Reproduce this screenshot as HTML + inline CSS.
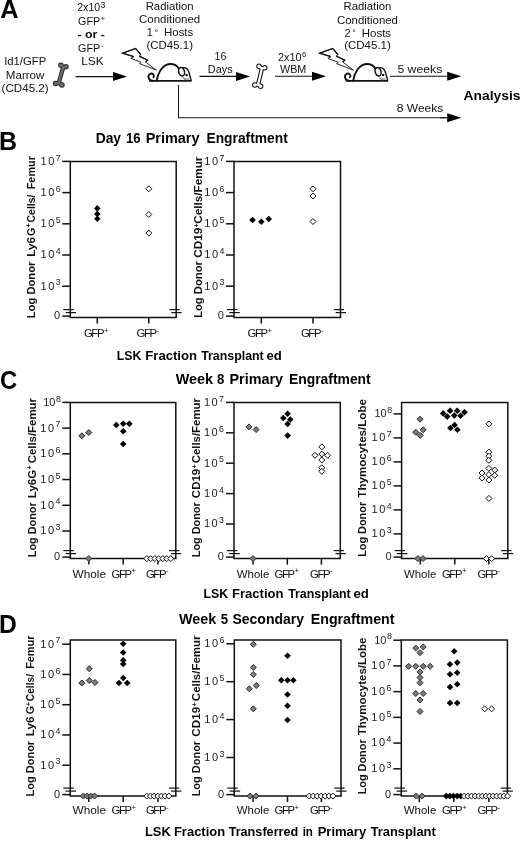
<!DOCTYPE html>
<html><head><meta charset="utf-8"><title>Figure</title>
<style>html,body{margin:0;padding:0;background:#fff;}svg{display:block;font-family:"Liberation Sans",sans-serif;filter:blur(0.35px);}</style>
</head><body>
<svg width="520" height="841" viewBox="0 0 520 841" font-family="Liberation Sans, sans-serif">
<rect width="520" height="841" fill="#fff"/>
<text x="0.30" y="18.40" font-size="25.3" font-weight="bold" fill="#000" >A</text>
<text x="-0.90" y="150.10" font-size="25" font-weight="bold" fill="#000" >B</text>
<text x="0.10" y="389.30" font-size="25" font-weight="bold" textLength="17.20" lengthAdjust="spacingAndGlyphs" fill="#000" >C</text>
<text x="-0.90" y="633.40" font-size="25" font-weight="bold" textLength="17.80" lengthAdjust="spacingAndGlyphs" fill="#000" >D</text>
<text x="4.20" y="65.20" font-size="11.3" textLength="42.00" lengthAdjust="spacingAndGlyphs" fill="#111" >Id1/GFP</text>
<text x="5.80" y="78.60" font-size="11.3" textLength="38.60" lengthAdjust="spacingAndGlyphs" fill="#111" >Marrow</text>
<text x="1.60" y="91.80" font-size="11.3" textLength="47.10" lengthAdjust="spacingAndGlyphs" fill="#111" >(CD45.2)</text>
<text x="77.20" y="10.60" font-size="11.3" textLength="23.00" lengthAdjust="spacingAndGlyphs" fill="#111" >2x10</text>
<text x="100.60" y="8.00" font-size="8.8" fill="#111" >3</text>
<text x="78.10" y="24.70" font-size="11.3" textLength="22.20" lengthAdjust="spacingAndGlyphs" fill="#111" >GFP</text>
<text x="100.40" y="21.40" font-size="8" fill="#111" >+</text>
<text x="77.50" y="37.90" font-size="11.3" font-weight="bold" textLength="27.50" lengthAdjust="spacingAndGlyphs" fill="#111" >- or -</text>
<text x="78.10" y="51.90" font-size="11.3" textLength="22.20" lengthAdjust="spacingAndGlyphs" fill="#111" >GFP</text>
<text x="100.90" y="47.80" font-size="8" fill="#111" >-</text>
<text x="81.20" y="65.20" font-size="11.3" textLength="22.40" lengthAdjust="spacingAndGlyphs" fill="#111" >LSK</text>
<text x="145.70" y="9.90" font-size="11.3" textLength="47.90" lengthAdjust="spacingAndGlyphs" fill="#111" >Radiation</text>
<text x="139.10" y="23.00" font-size="11.3" textLength="61.10" lengthAdjust="spacingAndGlyphs" fill="#111" >Conditioned</text>
<text x="146.70" y="36.30" font-size="11.3" textLength="6.00" lengthAdjust="spacingAndGlyphs" fill="#111" >1</text>
<text x="154.40" y="35.50" font-size="9" fill="#111" >°</text>
<text x="164.00" y="36.30" font-size="11.3" textLength="29.30" lengthAdjust="spacingAndGlyphs" fill="#111" >Hosts</text>
<text x="146.40" y="48.90" font-size="11.3" textLength="46.60" lengthAdjust="spacingAndGlyphs" fill="#111" >(CD45.1)</text>
<text x="343.50" y="10.40" font-size="11.3" textLength="47.90" lengthAdjust="spacingAndGlyphs" fill="#111" >Radiation</text>
<text x="336.90" y="23.50" font-size="11.3" textLength="61.10" lengthAdjust="spacingAndGlyphs" fill="#111" >Conditioned</text>
<text x="344.50" y="36.80" font-size="11.3" textLength="6.00" lengthAdjust="spacingAndGlyphs" fill="#111" >2</text>
<text x="352.20" y="36.00" font-size="9" fill="#111" >°</text>
<text x="361.80" y="36.80" font-size="11.3" textLength="29.30" lengthAdjust="spacingAndGlyphs" fill="#111" >Hosts</text>
<text x="344.20" y="49.40" font-size="11.3" textLength="46.60" lengthAdjust="spacingAndGlyphs" fill="#111" >(CD45.1)</text>
<text x="214.60" y="60.00" font-size="11.3" textLength="11.80" lengthAdjust="spacingAndGlyphs" fill="#111" >16</text>
<text x="207.80" y="72.60" font-size="11.3" textLength="24.80" lengthAdjust="spacingAndGlyphs" fill="#111" >Days</text>
<text x="278.00" y="61.00" font-size="11.3" textLength="23.50" lengthAdjust="spacingAndGlyphs" fill="#111" >2x10</text>
<text x="302.00" y="56.80" font-size="7.6" fill="#111" >6</text>
<text x="280.00" y="73.00" font-size="11.3" textLength="26.30" lengthAdjust="spacingAndGlyphs" fill="#111" >WBM</text>
<text x="397.40" y="72.60" font-size="11.3" textLength="44.90" lengthAdjust="spacingAndGlyphs" fill="#111" >5 weeks</text>
<text x="396.80" y="111.50" font-size="11.3" textLength="46.50" lengthAdjust="spacingAndGlyphs" fill="#111" >8 Weeks</text>
<text x="463.50" y="99.50" font-size="13.2" font-weight="bold" textLength="57.00" lengthAdjust="spacingAndGlyphs" fill="#000" >Analysis</text>
<line x1="75.50" y1="76.60" x2="119.00" y2="76.60" stroke="#111" stroke-width="1.1" stroke-linecap="butt"/>
<path d="M127.00 76.60L113.00 72.10L113.00 81.10Z" fill="#000"/>
<line x1="199.50" y1="76.40" x2="242.00" y2="76.40" stroke="#111" stroke-width="1.1" stroke-linecap="butt"/>
<path d="M250.00 76.40L236.00 71.90L236.00 80.90Z" fill="#000"/>
<line x1="275.00" y1="76.20" x2="318.00" y2="76.20" stroke="#111" stroke-width="1.1" stroke-linecap="butt"/>
<path d="M326.00 76.20L312.00 71.70L312.00 80.70Z" fill="#000"/>
<line x1="390.00" y1="76.30" x2="453.20" y2="76.30" stroke="#111" stroke-width="1.1" stroke-linecap="butt"/>
<path d="M461.20 76.30L447.20 71.80L447.20 80.80Z" fill="#000"/>
<path d="M178.5 85L178.5 117.7L450 117.7" fill="none" stroke="#1a1a1a" stroke-width="1.05"/>
<line x1="440.00" y1="117.70" x2="453.20" y2="117.70" stroke="#111" stroke-width="1.1" stroke-linecap="butt"/>
<path d="M461.20 117.70L447.20 113.20L447.20 122.20Z" fill="#000"/>
<line x1="63.10" y1="67.50" x2="58.80" y2="83.00" stroke="#2b2b2b" stroke-width="4.4" stroke-linecap="round"/>
<line x1="63.10" y1="67.50" x2="60.90" y2="65.20" stroke="#2b2b2b" stroke-width="3.9600000000000004" stroke-linecap="round"/>
<circle cx="60.9" cy="65.2" r="2.75" fill="#2b2b2b"/>
<line x1="63.10" y1="67.50" x2="65.90" y2="66.70" stroke="#2b2b2b" stroke-width="3.9600000000000004" stroke-linecap="round"/>
<circle cx="65.9" cy="66.7" r="2.75" fill="#2b2b2b"/>
<line x1="58.80" y1="83.00" x2="55.60" y2="83.60" stroke="#2b2b2b" stroke-width="3.9600000000000004" stroke-linecap="round"/>
<circle cx="55.6" cy="83.6" r="2.75" fill="#2b2b2b"/>
<line x1="58.80" y1="83.00" x2="62.00" y2="85.00" stroke="#2b2b2b" stroke-width="3.9600000000000004" stroke-linecap="round"/>
<circle cx="62.0" cy="85.0" r="2.75" fill="#2b2b2b"/>
<line x1="63.10" y1="67.50" x2="58.80" y2="83.00" stroke="#6e6e6e" stroke-width="2.2" stroke-linecap="round"/>
<line x1="63.10" y1="67.50" x2="60.90" y2="65.20" stroke="#6e6e6e" stroke-width="1.9800000000000002" stroke-linecap="round"/>
<circle cx="60.9" cy="65.2" r="1.7" fill="#6e6e6e"/>
<line x1="63.10" y1="67.50" x2="65.90" y2="66.70" stroke="#6e6e6e" stroke-width="1.9800000000000002" stroke-linecap="round"/>
<circle cx="65.9" cy="66.7" r="1.7" fill="#6e6e6e"/>
<line x1="58.80" y1="83.00" x2="55.60" y2="83.60" stroke="#6e6e6e" stroke-width="1.9800000000000002" stroke-linecap="round"/>
<circle cx="55.6" cy="83.6" r="1.7" fill="#6e6e6e"/>
<line x1="58.80" y1="83.00" x2="62.00" y2="85.00" stroke="#6e6e6e" stroke-width="1.9800000000000002" stroke-linecap="round"/>
<circle cx="62.0" cy="85.0" r="1.7" fill="#6e6e6e"/>
<line x1="261.90" y1="68.60" x2="258.10" y2="84.40" stroke="#111" stroke-width="4.4" stroke-linecap="round"/>
<line x1="261.90" y1="68.60" x2="259.00" y2="66.30" stroke="#111" stroke-width="3.9600000000000004" stroke-linecap="round"/>
<circle cx="259.0" cy="66.3" r="2.75" fill="#111"/>
<line x1="261.90" y1="68.60" x2="264.80" y2="67.80" stroke="#111" stroke-width="3.9600000000000004" stroke-linecap="round"/>
<circle cx="264.8" cy="67.8" r="2.75" fill="#111"/>
<line x1="258.10" y1="84.40" x2="254.80" y2="85.00" stroke="#111" stroke-width="3.9600000000000004" stroke-linecap="round"/>
<circle cx="254.8" cy="85.0" r="2.75" fill="#111"/>
<line x1="258.10" y1="84.40" x2="260.60" y2="86.20" stroke="#111" stroke-width="3.9600000000000004" stroke-linecap="round"/>
<circle cx="260.6" cy="86.2" r="2.75" fill="#111"/>
<line x1="261.90" y1="68.60" x2="258.10" y2="84.40" stroke="#fff" stroke-width="2.2" stroke-linecap="round"/>
<line x1="261.90" y1="68.60" x2="259.00" y2="66.30" stroke="#fff" stroke-width="1.9800000000000002" stroke-linecap="round"/>
<circle cx="259.0" cy="66.3" r="1.7" fill="#fff"/>
<line x1="261.90" y1="68.60" x2="264.80" y2="67.80" stroke="#fff" stroke-width="1.9800000000000002" stroke-linecap="round"/>
<circle cx="264.8" cy="67.8" r="1.7" fill="#fff"/>
<line x1="258.10" y1="84.40" x2="254.80" y2="85.00" stroke="#fff" stroke-width="1.9800000000000002" stroke-linecap="round"/>
<circle cx="254.8" cy="85.0" r="1.7" fill="#fff"/>
<line x1="258.10" y1="84.40" x2="260.60" y2="86.20" stroke="#fff" stroke-width="1.9800000000000002" stroke-linecap="round"/>
<circle cx="260.6" cy="86.2" r="1.7" fill="#fff"/>
<path d="M122.60 53.20L135.60 48.50L140.80 54.50L139.20 56.20L147.70 60.10L145.50 61.90L156.30 70.10L139.50 63.60L141.20 62.30L130.80 58.40L133.80 56.70Z" fill="#fff" stroke="#111" stroke-width="0.9" stroke-linejoin="miter"/>
<path d="M133.80 56.70L122.60 53.20L135.60 48.50L140.80 54.50" fill="none" stroke="#111" stroke-width="1.3" stroke-linejoin="miter"/>
<path d="M139.20 56.20L147.70 60.10L145.50 61.90" fill="none" stroke="#111" stroke-width="1.3" stroke-linejoin="miter"/>
<path d="M319.70 53.20L332.70 48.50L337.90 54.50L336.30 56.20L344.80 60.10L342.60 61.90L353.40 70.10L336.60 63.60L338.30 62.30L327.90 58.40L330.90 56.70Z" fill="#fff" stroke="#111" stroke-width="0.9" stroke-linejoin="miter"/>
<path d="M330.90 56.70L319.70 53.20L332.70 48.50L337.90 54.50" fill="none" stroke="#111" stroke-width="1.3" stroke-linejoin="miter"/>
<path d="M336.30 56.20L344.80 60.10L342.60 61.90" fill="none" stroke="#111" stroke-width="1.3" stroke-linejoin="miter"/>
<g transform="translate(0 0)" fill="none" stroke="#111" stroke-width="1.8" stroke-linecap="round" stroke-linejoin="round"><path d="M149.8 80.8L190.8 80.8" stroke-width="1.7"/><path d="M156.6 80.8C157.6 74 162 64.3 170 64.0C174 63.9 177.5 66.2 179 68.8"/><path d="M182.6 67.9C185.5 66.8 187.8 69 188.8 72C189.8 75.3 190.7 78.3 191.1 80.6" stroke-width="1.4"/><path d="M153 80.8C148.2 80.8 147.2 75.8 150 73.9C152.6 72.6 155 75.2 153.4 77.3"/><ellipse cx="181.6" cy="71.7" rx="2.9" ry="4.3" transform="rotate(-14 181.6 71.7)" fill="#fff" stroke-width="1.5"/><circle cx="186.6" cy="75" r="1.25" fill="#111" stroke="none"/><path d="M182.6 76.5C183.5 78.5 185 80 186.5 80.6" stroke-width="0.7" stroke="#444"/><path d="M183.5 78L188.8 79.6M184 79.8L188.5 78.4" stroke-width="0.6" stroke="#666"/></g>
<g transform="translate(196.5 0)" fill="none" stroke="#111" stroke-width="1.8" stroke-linecap="round" stroke-linejoin="round"><path d="M149.8 80.8L190.8 80.8" stroke-width="1.7"/><path d="M156.6 80.8C157.6 74 162 64.3 170 64.0C174 63.9 177.5 66.2 179 68.8"/><path d="M182.6 67.9C185.5 66.8 187.8 69 188.8 72C189.8 75.3 190.7 78.3 191.1 80.6" stroke-width="1.4"/><path d="M153 80.8C148.2 80.8 147.2 75.8 150 73.9C152.6 72.6 155 75.2 153.4 77.3"/><ellipse cx="181.6" cy="71.7" rx="2.9" ry="4.3" transform="rotate(-14 181.6 71.7)" fill="#fff" stroke-width="1.5"/><circle cx="186.6" cy="75" r="1.25" fill="#111" stroke="none"/><path d="M182.6 76.5C183.5 78.5 185 80 186.5 80.6" stroke-width="0.7" stroke="#444"/><path d="M183.5 78L188.8 79.6M184 79.8L188.5 78.4" stroke-width="0.6" stroke="#666"/></g>
<text x="95.70" y="142.90" font-size="13.8" font-weight="bold" textLength="25.35" lengthAdjust="spacingAndGlyphs" fill="#000" >Day</text>
<text x="125.95" y="142.90" font-size="13.8" font-weight="bold" textLength="14.60" lengthAdjust="spacingAndGlyphs" fill="#000" >16</text>
<text x="145.70" y="142.90" font-size="13.8" font-weight="bold" textLength="53.85" lengthAdjust="spacingAndGlyphs" fill="#000" >Primary</text>
<text x="206.45" y="142.90" font-size="13.8" font-weight="bold" textLength="81.30" lengthAdjust="spacingAndGlyphs" fill="#000" >Engraftment</text>
<text x="175.70" y="383.70" font-size="13.8" font-weight="bold" textLength="37.35" lengthAdjust="spacingAndGlyphs" fill="#000" >Week</text>
<text x="216.95" y="383.70" font-size="13.8" font-weight="bold" textLength="7.35" lengthAdjust="spacingAndGlyphs" fill="#000" >8</text>
<text x="229.45" y="383.70" font-size="13.8" font-weight="bold" textLength="53.60" lengthAdjust="spacingAndGlyphs" fill="#000" >Primary</text>
<text x="288.95" y="383.70" font-size="13.8" font-weight="bold" textLength="81.80" lengthAdjust="spacingAndGlyphs" fill="#000" >Engraftment</text>
<text x="178.95" y="623.50" font-size="13.8" font-weight="bold" textLength="37.35" lengthAdjust="spacingAndGlyphs" fill="#000" >Week</text>
<text x="220.70" y="623.50" font-size="13.8" font-weight="bold" textLength="7.35" lengthAdjust="spacingAndGlyphs" fill="#000" >5</text>
<text x="232.45" y="623.50" font-size="13.8" font-weight="bold" textLength="71.60" lengthAdjust="spacingAndGlyphs" fill="#000" >Secondary</text>
<text x="310.70" y="623.50" font-size="13.8" font-weight="bold" textLength="83.85" lengthAdjust="spacingAndGlyphs" fill="#000" >Engraftment</text>
<text x="116.75" y="359.80" font-size="12.4" font-weight="bold" textLength="24.60" lengthAdjust="spacingAndGlyphs" fill="#000" >LSK</text>
<text x="145.25" y="359.80" font-size="12.4" font-weight="bold" textLength="51.80" lengthAdjust="spacingAndGlyphs" fill="#000" >Fraction</text>
<text x="201.15" y="359.80" font-size="12.4" font-weight="bold" textLength="62.60" lengthAdjust="spacingAndGlyphs" fill="#000" >Transplant</text>
<text x="266.45" y="359.80" font-size="12.4" font-weight="bold" textLength="15.40" lengthAdjust="spacingAndGlyphs" fill="#000" >ed</text>
<text x="203.45" y="598.20" font-size="12.4" font-weight="bold" textLength="24.60" lengthAdjust="spacingAndGlyphs" fill="#000" >LSK</text>
<text x="231.95" y="598.20" font-size="12.4" font-weight="bold" textLength="51.60" lengthAdjust="spacingAndGlyphs" fill="#000" >Fraction</text>
<text x="288.15" y="598.20" font-size="12.4" font-weight="bold" textLength="62.60" lengthAdjust="spacingAndGlyphs" fill="#000" >Transplant</text>
<text x="353.45" y="598.20" font-size="12.4" font-weight="bold" textLength="15.40" lengthAdjust="spacingAndGlyphs" fill="#000" >ed</text>
<text x="144.95" y="835.70" font-size="12.4" font-weight="bold" textLength="25.80" lengthAdjust="spacingAndGlyphs" fill="#000" >LSK</text>
<text x="173.95" y="835.70" font-size="12.4" font-weight="bold" textLength="51.20" lengthAdjust="spacingAndGlyphs" fill="#000" >Fraction</text>
<text x="228.65" y="835.70" font-size="12.4" font-weight="bold" textLength="69.60" lengthAdjust="spacingAndGlyphs" fill="#000" >Transferred</text>
<text x="302.65" y="835.70" font-size="12.4" font-weight="bold" textLength="10.30" lengthAdjust="spacingAndGlyphs" fill="#000" >in</text>
<text x="317.65" y="835.70" font-size="12.4" font-weight="bold" textLength="48.50" lengthAdjust="spacingAndGlyphs" fill="#000" >Primary</text>
<text x="370.65" y="835.70" font-size="12.4" font-weight="bold" textLength="65.10" lengthAdjust="spacingAndGlyphs" fill="#000" >Transplant</text>
<path d="M70.30 317.60L70.30 161.40L176.20 161.40L176.20 317.60" fill="none" stroke="#111" stroke-width="1.5" stroke-linejoin="miter"/>
<line x1="69.60" y1="317.60" x2="176.90" y2="317.60" stroke="#111" stroke-width="1.5" stroke-linecap="butt"/>
<line x1="62.30" y1="161.40" x2="70.30" y2="161.40" stroke="#111" stroke-width="1.5" stroke-linecap="butt"/>
<text x="40.60" y="164.80" font-size="11" fill="#222" letter-spacing="1.6">10</text>
<text x="55.80" y="160.60" font-size="8.8" fill="#222" >7</text>
<line x1="62.30" y1="192.60" x2="70.30" y2="192.60" stroke="#111" stroke-width="1.5" stroke-linecap="butt"/>
<text x="40.60" y="196.00" font-size="11" fill="#222" letter-spacing="1.6">10</text>
<text x="55.80" y="191.80" font-size="8.8" fill="#222" >6</text>
<line x1="62.30" y1="223.80" x2="70.30" y2="223.80" stroke="#111" stroke-width="1.5" stroke-linecap="butt"/>
<text x="40.60" y="227.20" font-size="11" fill="#222" letter-spacing="1.6">10</text>
<text x="55.80" y="223.00" font-size="8.8" fill="#222" >5</text>
<line x1="62.30" y1="255.00" x2="70.30" y2="255.00" stroke="#111" stroke-width="1.5" stroke-linecap="butt"/>
<text x="40.60" y="258.40" font-size="11" fill="#222" letter-spacing="1.6">10</text>
<text x="55.80" y="254.20" font-size="8.8" fill="#222" >4</text>
<line x1="62.30" y1="286.20" x2="70.30" y2="286.20" stroke="#111" stroke-width="1.5" stroke-linecap="butt"/>
<text x="40.60" y="289.60" font-size="11" fill="#222" letter-spacing="1.6">10</text>
<text x="55.80" y="285.40" font-size="8.8" fill="#222" >3</text>
<line x1="62.30" y1="316.10" x2="70.30" y2="316.10" stroke="#111" stroke-width="1.5" stroke-linecap="butt"/>
<text x="54.10" y="319.40" font-size="11" fill="#222" >0</text>
<line x1="63.30" y1="309.60" x2="73.80" y2="309.60" stroke="#111" stroke-width="1.2" stroke-linecap="butt"/>
<line x1="65.60" y1="312.60" x2="76.10" y2="312.60" stroke="#111" stroke-width="1.2" stroke-linecap="butt"/>
<line x1="169.50" y1="309.60" x2="179.80" y2="309.60" stroke="#111" stroke-width="1.2" stroke-linecap="butt"/>
<line x1="171.40" y1="312.60" x2="181.70" y2="312.60" stroke="#111" stroke-width="1.2" stroke-linecap="butt"/>
<line x1="97.30" y1="317.60" x2="97.30" y2="323.60" stroke="#111" stroke-width="1.5" stroke-linecap="butt"/>
<text x="83.90" y="337.20" font-size="11.3" fill="#111" letter-spacing="-1.35">GFP</text>
<text x="103.90" y="333.00" font-size="7.8" fill="#111" >+</text>
<line x1="148.80" y1="317.60" x2="148.80" y2="323.60" stroke="#111" stroke-width="1.5" stroke-linecap="butt"/>
<text x="136.60" y="337.20" font-size="11.3" fill="#111" letter-spacing="-1.35">GFP</text>
<text x="156.60" y="333.00" font-size="7.8" fill="#111" >-</text>
<g transform="translate(34.90 0) rotate(-90)" font-weight="bold" fill="#111"><text x="-318.25" y="0" font-size="10.7" textLength="56.60" lengthAdjust="spacingAndGlyphs">Log Donor</text><text x="-256.65" y="0" font-size="10.7" textLength="19.60" lengthAdjust="spacingAndGlyphs">Ly6</text><text x="-236.05" y="0" font-size="10.7" textLength="8.30" lengthAdjust="spacingAndGlyphs">G</text><text x="-227.20" y="-3.6" font-size="6.8">+</text><text x="-222.45" y="0" font-size="10.7" textLength="27.90" lengthAdjust="spacingAndGlyphs">Cells/</text><text x="-189.25" y="0" font-size="10.7" textLength="33.10" lengthAdjust="spacingAndGlyphs">Femur</text></g>
<path d="M234.00 317.60L234.00 161.40L340.50 161.40L340.50 317.60" fill="none" stroke="#111" stroke-width="1.5" stroke-linejoin="miter"/>
<line x1="233.30" y1="317.60" x2="341.20" y2="317.60" stroke="#111" stroke-width="1.5" stroke-linecap="butt"/>
<line x1="226.00" y1="161.40" x2="234.00" y2="161.40" stroke="#111" stroke-width="1.5" stroke-linecap="butt"/>
<text x="204.30" y="164.80" font-size="11" fill="#222" letter-spacing="1.6">10</text>
<text x="219.50" y="160.60" font-size="8.8" fill="#222" >7</text>
<line x1="226.00" y1="192.60" x2="234.00" y2="192.60" stroke="#111" stroke-width="1.5" stroke-linecap="butt"/>
<text x="204.30" y="196.00" font-size="11" fill="#222" letter-spacing="1.6">10</text>
<text x="219.50" y="191.80" font-size="8.8" fill="#222" >6</text>
<line x1="226.00" y1="223.80" x2="234.00" y2="223.80" stroke="#111" stroke-width="1.5" stroke-linecap="butt"/>
<text x="204.30" y="227.20" font-size="11" fill="#222" letter-spacing="1.6">10</text>
<text x="219.50" y="223.00" font-size="8.8" fill="#222" >5</text>
<line x1="226.00" y1="255.00" x2="234.00" y2="255.00" stroke="#111" stroke-width="1.5" stroke-linecap="butt"/>
<text x="204.30" y="258.40" font-size="11" fill="#222" letter-spacing="1.6">10</text>
<text x="219.50" y="254.20" font-size="8.8" fill="#222" >4</text>
<line x1="226.00" y1="286.20" x2="234.00" y2="286.20" stroke="#111" stroke-width="1.5" stroke-linecap="butt"/>
<text x="204.30" y="289.60" font-size="11" fill="#222" letter-spacing="1.6">10</text>
<text x="219.50" y="285.40" font-size="8.8" fill="#222" >3</text>
<line x1="226.00" y1="316.10" x2="234.00" y2="316.10" stroke="#111" stroke-width="1.5" stroke-linecap="butt"/>
<text x="217.80" y="319.40" font-size="11" fill="#222" >0</text>
<line x1="227.00" y1="309.60" x2="237.50" y2="309.60" stroke="#111" stroke-width="1.2" stroke-linecap="butt"/>
<line x1="229.30" y1="312.60" x2="239.80" y2="312.60" stroke="#111" stroke-width="1.2" stroke-linecap="butt"/>
<line x1="333.80" y1="309.60" x2="344.10" y2="309.60" stroke="#111" stroke-width="1.2" stroke-linecap="butt"/>
<line x1="335.70" y1="312.60" x2="346.00" y2="312.60" stroke="#111" stroke-width="1.2" stroke-linecap="butt"/>
<line x1="261.30" y1="317.60" x2="261.30" y2="323.60" stroke="#111" stroke-width="1.5" stroke-linecap="butt"/>
<text x="247.60" y="337.20" font-size="11.3" fill="#111" letter-spacing="-1.35">GFP</text>
<text x="267.60" y="333.00" font-size="7.8" fill="#111" >+</text>
<line x1="313.00" y1="317.60" x2="313.00" y2="323.60" stroke="#111" stroke-width="1.5" stroke-linecap="butt"/>
<text x="300.90" y="337.20" font-size="11.3" fill="#111" letter-spacing="-1.35">GFP</text>
<text x="320.90" y="333.00" font-size="7.8" fill="#111" >-</text>
<g transform="translate(202.30 0) rotate(-90)" font-weight="bold" fill="#111"><text x="-317.85" y="0" font-size="10.7" textLength="56.70" lengthAdjust="spacingAndGlyphs">Log Donor</text><text x="-257.85" y="0" font-size="10.7" textLength="30.30" lengthAdjust="spacingAndGlyphs">CD19</text><text x="-227.50" y="-3.6" font-size="6.8">+</text><text x="-223.75" y="0" font-size="10.7" textLength="67.20" lengthAdjust="spacingAndGlyphs">Cells/Femur</text></g>
<path d="M94.00 208.40L97.30 205.10L100.60 208.40L97.30 211.70Z" fill="#000"/>
<path d="M94.00 214.00L97.30 210.70L100.60 214.00L97.30 217.30Z" fill="#000"/>
<path d="M94.00 218.80L97.30 215.50L100.60 218.80L97.30 222.10Z" fill="#000"/>
<path d="M145.80 188.80L148.80 185.80L151.80 188.80L148.80 191.80Z" fill="#fff" stroke="#111" stroke-width="1"/>
<path d="M145.80 214.50L148.80 211.50L151.80 214.50L148.80 217.50Z" fill="#fff" stroke="#111" stroke-width="1"/>
<path d="M145.80 233.10L148.80 230.10L151.80 233.10L148.80 236.10Z" fill="#fff" stroke="#111" stroke-width="1"/>
<path d="M249.20 220.00L252.50 216.70L255.80 220.00L252.50 223.30Z" fill="#000"/>
<path d="M258.00 221.80L261.30 218.50L264.60 221.80L261.30 225.10Z" fill="#000"/>
<path d="M265.50 219.00L268.80 215.70L272.10 219.00L268.80 222.30Z" fill="#000"/>
<path d="M310.00 188.80L313.00 185.80L316.00 188.80L313.00 191.80Z" fill="#fff" stroke="#111" stroke-width="1"/>
<path d="M310.00 196.00L313.00 193.00L316.00 196.00L313.00 199.00Z" fill="#fff" stroke="#111" stroke-width="1"/>
<path d="M310.00 221.50L313.00 218.50L316.00 221.50L313.00 224.50Z" fill="#fff" stroke="#111" stroke-width="1"/>
<path d="M70.30 558.60L70.30 402.40L175.80 402.40L175.80 558.60" fill="none" stroke="#111" stroke-width="1.5" stroke-linejoin="miter"/>
<line x1="69.60" y1="558.60" x2="176.50" y2="558.60" stroke="#111" stroke-width="1.5" stroke-linecap="butt"/>
<line x1="62.30" y1="402.40" x2="70.30" y2="402.40" stroke="#111" stroke-width="1.5" stroke-linecap="butt"/>
<text x="43.20" y="405.80" font-size="11" fill="#222" >10</text>
<text x="56.00" y="401.60" font-size="8.8" fill="#222" >8</text>
<line x1="62.30" y1="428.12" x2="70.30" y2="428.12" stroke="#111" stroke-width="1.5" stroke-linecap="butt"/>
<text x="40.20" y="431.52" font-size="11" fill="#222" letter-spacing="1.6">10</text>
<text x="55.40" y="427.32" font-size="8.8" fill="#222" >7</text>
<line x1="62.30" y1="453.84" x2="70.30" y2="453.84" stroke="#111" stroke-width="1.5" stroke-linecap="butt"/>
<text x="40.20" y="457.24" font-size="11" fill="#222" letter-spacing="1.6">10</text>
<text x="55.40" y="453.04" font-size="8.8" fill="#222" >6</text>
<line x1="62.30" y1="479.56" x2="70.30" y2="479.56" stroke="#111" stroke-width="1.5" stroke-linecap="butt"/>
<text x="40.20" y="482.96" font-size="11" fill="#222" letter-spacing="1.6">10</text>
<text x="55.40" y="478.76" font-size="8.8" fill="#222" >5</text>
<line x1="62.30" y1="505.28" x2="70.30" y2="505.28" stroke="#111" stroke-width="1.5" stroke-linecap="butt"/>
<text x="40.20" y="508.68" font-size="11" fill="#222" letter-spacing="1.6">10</text>
<text x="55.40" y="504.48" font-size="8.8" fill="#222" >4</text>
<line x1="62.30" y1="531.00" x2="70.30" y2="531.00" stroke="#111" stroke-width="1.5" stroke-linecap="butt"/>
<text x="40.20" y="534.40" font-size="11" fill="#222" letter-spacing="1.6">10</text>
<text x="55.40" y="530.20" font-size="8.8" fill="#222" >3</text>
<line x1="62.30" y1="557.10" x2="70.30" y2="557.10" stroke="#111" stroke-width="1.5" stroke-linecap="butt"/>
<text x="54.10" y="560.40" font-size="11" fill="#222" >0</text>
<line x1="63.30" y1="550.60" x2="73.80" y2="550.60" stroke="#111" stroke-width="1.2" stroke-linecap="butt"/>
<line x1="65.60" y1="553.60" x2="76.10" y2="553.60" stroke="#111" stroke-width="1.2" stroke-linecap="butt"/>
<line x1="169.10" y1="550.60" x2="179.40" y2="550.60" stroke="#111" stroke-width="1.2" stroke-linecap="butt"/>
<line x1="171.00" y1="553.60" x2="181.30" y2="553.60" stroke="#111" stroke-width="1.2" stroke-linecap="butt"/>
<line x1="88.80" y1="558.60" x2="88.80" y2="564.60" stroke="#111" stroke-width="1.5" stroke-linecap="butt"/>
<text x="72.50" y="577.50" font-size="11.3" textLength="33.50" lengthAdjust="spacingAndGlyphs" fill="#111" >Whole</text>
<line x1="123.20" y1="558.60" x2="123.20" y2="564.60" stroke="#111" stroke-width="1.5" stroke-linecap="butt"/>
<text x="111.60" y="577.50" font-size="11.3" fill="#111" letter-spacing="-1.35">GFP</text>
<text x="131.60" y="573.30" font-size="7.8" fill="#111" >+</text>
<line x1="158.00" y1="558.60" x2="158.00" y2="564.60" stroke="#111" stroke-width="1.5" stroke-linecap="butt"/>
<text x="145.90" y="577.50" font-size="11.3" fill="#111" letter-spacing="-1.35">GFP</text>
<text x="165.90" y="573.30" font-size="7.8" fill="#111" >-</text>
<g transform="translate(36.00 0) rotate(-90)" font-weight="bold" fill="#111"><text x="-557.15" y="0" font-size="10.7" textLength="54.80" lengthAdjust="spacingAndGlyphs">Log Donor</text><text x="-498.15" y="0" font-size="10.7" textLength="28.30" lengthAdjust="spacingAndGlyphs">Ly6G</text><text x="-469.50" y="-3.6" font-size="6.8">+</text><text x="-463.35" y="0" font-size="10.7" textLength="65.30" lengthAdjust="spacingAndGlyphs">Cells/Femur</text></g>
<path d="M234.00 558.60L234.00 402.40L340.30 402.40L340.30 558.60" fill="none" stroke="#111" stroke-width="1.5" stroke-linejoin="miter"/>
<line x1="233.30" y1="558.60" x2="341.00" y2="558.60" stroke="#111" stroke-width="1.5" stroke-linecap="butt"/>
<line x1="226.00" y1="402.40" x2="234.00" y2="402.40" stroke="#111" stroke-width="1.5" stroke-linecap="butt"/>
<text x="203.90" y="405.80" font-size="11" fill="#222" letter-spacing="1.6">10</text>
<text x="219.10" y="401.60" font-size="8.8" fill="#222" >7</text>
<line x1="226.00" y1="432.80" x2="234.00" y2="432.80" stroke="#111" stroke-width="1.5" stroke-linecap="butt"/>
<text x="203.90" y="436.20" font-size="11" fill="#222" letter-spacing="1.6">10</text>
<text x="219.10" y="432.00" font-size="8.8" fill="#222" >6</text>
<line x1="226.00" y1="463.20" x2="234.00" y2="463.20" stroke="#111" stroke-width="1.5" stroke-linecap="butt"/>
<text x="203.90" y="466.60" font-size="11" fill="#222" letter-spacing="1.6">10</text>
<text x="219.10" y="462.40" font-size="8.8" fill="#222" >5</text>
<line x1="226.00" y1="493.60" x2="234.00" y2="493.60" stroke="#111" stroke-width="1.5" stroke-linecap="butt"/>
<text x="203.90" y="497.00" font-size="11" fill="#222" letter-spacing="1.6">10</text>
<text x="219.10" y="492.80" font-size="8.8" fill="#222" >4</text>
<line x1="226.00" y1="524.00" x2="234.00" y2="524.00" stroke="#111" stroke-width="1.5" stroke-linecap="butt"/>
<text x="203.90" y="527.40" font-size="11" fill="#222" letter-spacing="1.6">10</text>
<text x="219.10" y="523.20" font-size="8.8" fill="#222" >3</text>
<line x1="226.00" y1="557.10" x2="234.00" y2="557.10" stroke="#111" stroke-width="1.5" stroke-linecap="butt"/>
<text x="217.80" y="560.40" font-size="11" fill="#222" >0</text>
<line x1="227.00" y1="550.60" x2="237.50" y2="550.60" stroke="#111" stroke-width="1.2" stroke-linecap="butt"/>
<line x1="229.30" y1="553.60" x2="239.80" y2="553.60" stroke="#111" stroke-width="1.2" stroke-linecap="butt"/>
<line x1="333.60" y1="550.60" x2="343.90" y2="550.60" stroke="#111" stroke-width="1.2" stroke-linecap="butt"/>
<line x1="335.50" y1="553.60" x2="345.80" y2="553.60" stroke="#111" stroke-width="1.2" stroke-linecap="butt"/>
<line x1="253.00" y1="558.60" x2="253.00" y2="564.60" stroke="#111" stroke-width="1.5" stroke-linecap="butt"/>
<text x="236.80" y="577.50" font-size="11.3" textLength="32.50" lengthAdjust="spacingAndGlyphs" fill="#111" >Whole</text>
<line x1="287.30" y1="558.60" x2="287.30" y2="564.60" stroke="#111" stroke-width="1.5" stroke-linecap="butt"/>
<text x="274.60" y="577.50" font-size="11.3" fill="#111" letter-spacing="-1.35">GFP</text>
<text x="294.60" y="573.30" font-size="7.8" fill="#111" >+</text>
<line x1="321.40" y1="558.60" x2="321.40" y2="564.60" stroke="#111" stroke-width="1.5" stroke-linecap="butt"/>
<text x="310.10" y="577.50" font-size="11.3" fill="#111" letter-spacing="-1.35">GFP</text>
<text x="330.10" y="573.30" font-size="7.8" fill="#111" >-</text>
<g transform="translate(200.30 0) rotate(-90)" font-weight="bold" fill="#111"><text x="-557.15" y="0" font-size="10.7" textLength="54.80" lengthAdjust="spacingAndGlyphs">Log Donor</text><text x="-498.15" y="0" font-size="10.7" textLength="29.30" lengthAdjust="spacingAndGlyphs">CD19</text><text x="-468.30" y="-3.6" font-size="6.8">+</text><text x="-463.35" y="0" font-size="10.7" textLength="65.30" lengthAdjust="spacingAndGlyphs">Cells/Femur</text></g>
<path d="M401.60 558.60L401.60 402.40L507.80 402.40L507.80 558.60" fill="none" stroke="#111" stroke-width="1.5" stroke-linejoin="miter"/>
<line x1="400.90" y1="558.60" x2="508.50" y2="558.60" stroke="#111" stroke-width="1.5" stroke-linecap="butt"/>
<line x1="393.60" y1="413.90" x2="401.60" y2="413.90" stroke="#111" stroke-width="1.5" stroke-linecap="butt"/>
<text x="374.50" y="417.30" font-size="11" fill="#222" >10</text>
<text x="387.30" y="413.10" font-size="8.8" fill="#222" >8</text>
<line x1="393.60" y1="437.90" x2="401.60" y2="437.90" stroke="#111" stroke-width="1.5" stroke-linecap="butt"/>
<text x="371.50" y="441.30" font-size="11" fill="#222" letter-spacing="1.6">10</text>
<text x="386.70" y="437.10" font-size="8.8" fill="#222" >7</text>
<line x1="393.60" y1="461.90" x2="401.60" y2="461.90" stroke="#111" stroke-width="1.5" stroke-linecap="butt"/>
<text x="371.50" y="465.30" font-size="11" fill="#222" letter-spacing="1.6">10</text>
<text x="386.70" y="461.10" font-size="8.8" fill="#222" >6</text>
<line x1="393.60" y1="485.90" x2="401.60" y2="485.90" stroke="#111" stroke-width="1.5" stroke-linecap="butt"/>
<text x="371.50" y="489.30" font-size="11" fill="#222" letter-spacing="1.6">10</text>
<text x="386.70" y="485.10" font-size="8.8" fill="#222" >5</text>
<line x1="393.60" y1="509.90" x2="401.60" y2="509.90" stroke="#111" stroke-width="1.5" stroke-linecap="butt"/>
<text x="371.50" y="513.30" font-size="11" fill="#222" letter-spacing="1.6">10</text>
<text x="386.70" y="509.10" font-size="8.8" fill="#222" >4</text>
<line x1="393.60" y1="533.90" x2="401.60" y2="533.90" stroke="#111" stroke-width="1.5" stroke-linecap="butt"/>
<text x="371.50" y="537.30" font-size="11" fill="#222" letter-spacing="1.6">10</text>
<text x="386.70" y="533.10" font-size="8.8" fill="#222" >3</text>
<line x1="393.60" y1="557.10" x2="401.60" y2="557.10" stroke="#111" stroke-width="1.5" stroke-linecap="butt"/>
<text x="385.40" y="560.40" font-size="11" fill="#222" >0</text>
<line x1="394.60" y1="550.60" x2="405.10" y2="550.60" stroke="#111" stroke-width="1.2" stroke-linecap="butt"/>
<line x1="396.90" y1="553.60" x2="407.40" y2="553.60" stroke="#111" stroke-width="1.2" stroke-linecap="butt"/>
<line x1="501.10" y1="550.60" x2="511.40" y2="550.60" stroke="#111" stroke-width="1.2" stroke-linecap="butt"/>
<line x1="503.00" y1="553.60" x2="513.30" y2="553.60" stroke="#111" stroke-width="1.2" stroke-linecap="butt"/>
<line x1="420.30" y1="558.60" x2="420.30" y2="564.60" stroke="#111" stroke-width="1.5" stroke-linecap="butt"/>
<text x="404.00" y="577.50" font-size="11.3" textLength="32.30" lengthAdjust="spacingAndGlyphs" fill="#111" >Whole</text>
<line x1="454.80" y1="558.60" x2="454.80" y2="564.60" stroke="#111" stroke-width="1.5" stroke-linecap="butt"/>
<text x="441.90" y="577.50" font-size="11.3" fill="#111" letter-spacing="-1.35">GFP</text>
<text x="461.90" y="573.30" font-size="7.8" fill="#111" >+</text>
<line x1="488.80" y1="558.60" x2="488.80" y2="564.60" stroke="#111" stroke-width="1.5" stroke-linecap="butt"/>
<text x="477.60" y="577.50" font-size="11.3" fill="#111" letter-spacing="-1.35">GFP</text>
<text x="497.60" y="573.30" font-size="7.8" fill="#111" >-</text>
<g transform="translate(366.20 0) rotate(-90)" font-weight="bold" fill="#111"><text x="-556.85" y="0" font-size="10.7" textLength="55.00" lengthAdjust="spacingAndGlyphs">Log Donor</text><text x="-497.65" y="0" font-size="10.7" textLength="98.60" lengthAdjust="spacingAndGlyphs">Thymocytes/Lobe</text></g>
<path d="M78.80 435.80L81.80 432.80L84.80 435.80L81.80 438.80Z" fill="#7c7c7c" stroke="#2a2a2a" stroke-width="1"/>
<path d="M85.80 432.50L88.80 429.50L91.80 432.50L88.80 435.50Z" fill="#7c7c7c" stroke="#2a2a2a" stroke-width="1"/>
<path d="M113.00 425.00L116.30 421.70L119.60 425.00L116.30 428.30Z" fill="#000"/>
<path d="M119.90 423.80L123.20 420.50L126.50 423.80L123.20 427.10Z" fill="#000"/>
<path d="M126.00 423.80L129.30 420.50L132.60 423.80L129.30 427.10Z" fill="#000"/>
<path d="M119.90 431.30L123.20 428.00L126.50 431.30L123.20 434.60Z" fill="#000"/>
<path d="M119.90 444.00L123.20 440.70L126.50 444.00L123.20 447.30Z" fill="#000"/>
<path d="M85.80 558.60L88.80 555.60L91.80 558.60L88.80 561.60Z" fill="#7c7c7c" stroke="#2a2a2a" stroke-width="1"/>
<path d="M143.80 558.60L146.80 555.60L149.80 558.60L146.80 561.60Z" fill="#fff" stroke="#111" stroke-width="1"/>
<path d="M147.80 558.60L150.80 555.60L153.80 558.60L150.80 561.60Z" fill="#fff" stroke="#111" stroke-width="1"/>
<path d="M151.80 558.60L154.80 555.60L157.80 558.60L154.80 561.60Z" fill="#fff" stroke="#111" stroke-width="1"/>
<path d="M155.80 558.60L158.80 555.60L161.80 558.60L158.80 561.60Z" fill="#fff" stroke="#111" stroke-width="1"/>
<path d="M159.80 558.60L162.80 555.60L165.80 558.60L162.80 561.60Z" fill="#fff" stroke="#111" stroke-width="1"/>
<path d="M163.80 558.60L166.80 555.60L169.80 558.60L166.80 561.60Z" fill="#fff" stroke="#111" stroke-width="1"/>
<path d="M167.80 558.60L170.80 555.60L173.80 558.60L170.80 561.60Z" fill="#fff" stroke="#111" stroke-width="1"/>
<path d="M246.00 426.90L249.00 423.90L252.00 426.90L249.00 429.90Z" fill="#7c7c7c" stroke="#2a2a2a" stroke-width="1"/>
<path d="M253.10 429.60L256.10 426.60L259.10 429.60L256.10 432.60Z" fill="#7c7c7c" stroke="#2a2a2a" stroke-width="1"/>
<path d="M284.30 413.80L287.60 410.50L290.90 413.80L287.60 417.10Z" fill="#000"/>
<path d="M280.00 418.00L283.30 414.70L286.60 418.00L283.30 421.30Z" fill="#000"/>
<path d="M287.00 419.50L290.30 416.20L293.60 419.50L290.30 422.80Z" fill="#000"/>
<path d="M284.30 424.00L287.60 420.70L290.90 424.00L287.60 427.30Z" fill="#000"/>
<path d="M284.30 435.60L287.60 432.30L290.90 435.60L287.60 438.90Z" fill="#000"/>
<path d="M318.80 446.90L321.80 443.90L324.80 446.90L321.80 449.90Z" fill="#fff" stroke="#111" stroke-width="1"/>
<path d="M312.00 455.30L315.00 452.30L318.00 455.30L315.00 458.30Z" fill="#fff" stroke="#111" stroke-width="1"/>
<path d="M318.80 454.00L321.80 451.00L324.80 454.00L321.80 457.00Z" fill="#fff" stroke="#111" stroke-width="1"/>
<path d="M324.60 455.30L327.60 452.30L330.60 455.30L327.60 458.30Z" fill="#fff" stroke="#111" stroke-width="1"/>
<path d="M318.80 460.00L321.80 457.00L324.80 460.00L321.80 463.00Z" fill="#fff" stroke="#111" stroke-width="1"/>
<path d="M318.80 467.80L321.80 464.80L324.80 467.80L321.80 470.80Z" fill="#fff" stroke="#111" stroke-width="1"/>
<path d="M318.80 471.30L321.80 468.30L324.80 471.30L321.80 474.30Z" fill="#fff" stroke="#111" stroke-width="1"/>
<path d="M250.00 558.60L253.00 555.60L256.00 558.60L253.00 561.60Z" fill="#7c7c7c" stroke="#2a2a2a" stroke-width="1"/>
<path d="M417.10 419.20L420.10 416.20L423.10 419.20L420.10 422.20Z" fill="#7c7c7c" stroke="#2a2a2a" stroke-width="1"/>
<path d="M412.70 432.20L415.70 429.20L418.70 432.20L415.70 435.20Z" fill="#7c7c7c" stroke="#2a2a2a" stroke-width="1"/>
<path d="M420.20 429.80L423.20 426.80L426.20 429.80L423.20 432.80Z" fill="#7c7c7c" stroke="#2a2a2a" stroke-width="1"/>
<path d="M417.10 435.40L420.10 432.40L423.10 435.40L420.10 438.40Z" fill="#7c7c7c" stroke="#2a2a2a" stroke-width="1"/>
<path d="M439.90 413.40L443.20 410.10L446.50 413.40L443.20 416.70Z" fill="#000"/>
<path d="M446.80 410.80L450.10 407.50L453.40 410.80L450.10 414.10Z" fill="#000"/>
<path d="M453.90 410.80L457.20 407.50L460.50 410.80L457.20 414.10Z" fill="#000"/>
<path d="M461.20 412.30L464.50 409.00L467.80 412.30L464.50 415.60Z" fill="#000"/>
<path d="M443.90 416.60L447.20 413.30L450.50 416.60L447.20 419.90Z" fill="#000"/>
<path d="M451.00 415.50L454.30 412.20L457.60 415.50L454.30 418.80Z" fill="#000"/>
<path d="M457.30 415.80L460.60 412.50L463.90 415.80L460.60 419.10Z" fill="#000"/>
<path d="M447.10 428.00L450.40 424.70L453.70 428.00L450.40 431.30Z" fill="#000"/>
<path d="M451.30 425.00L454.60 421.70L457.90 425.00L454.60 428.30Z" fill="#000"/>
<path d="M454.10 429.80L457.40 426.50L460.70 429.80L457.40 433.10Z" fill="#000"/>
<path d="M485.90 423.90L488.90 420.90L491.90 423.90L488.90 426.90Z" fill="#fff" stroke="#111" stroke-width="1"/>
<path d="M485.90 452.20L488.90 449.20L491.90 452.20L488.90 455.20Z" fill="#fff" stroke="#111" stroke-width="1"/>
<path d="M485.90 456.20L488.90 453.20L491.90 456.20L488.90 459.20Z" fill="#fff" stroke="#111" stroke-width="1"/>
<path d="M485.90 460.30L488.90 457.30L491.90 460.30L488.90 463.30Z" fill="#fff" stroke="#111" stroke-width="1"/>
<path d="M485.90 468.40L488.90 465.40L491.90 468.40L488.90 471.40Z" fill="#fff" stroke="#111" stroke-width="1"/>
<path d="M491.70 470.00L494.70 467.00L497.70 470.00L494.70 473.00Z" fill="#fff" stroke="#111" stroke-width="1"/>
<path d="M479.00 473.00L482.00 470.00L485.00 473.00L482.00 476.00Z" fill="#fff" stroke="#111" stroke-width="1"/>
<path d="M485.90 474.60L488.90 471.60L491.90 474.60L488.90 477.60Z" fill="#fff" stroke="#111" stroke-width="1"/>
<path d="M491.70 475.30L494.70 472.30L497.70 475.30L494.70 478.30Z" fill="#fff" stroke="#111" stroke-width="1"/>
<path d="M479.00 478.10L482.00 475.10L485.00 478.10L482.00 481.10Z" fill="#fff" stroke="#111" stroke-width="1"/>
<path d="M485.90 480.00L488.90 477.00L491.90 480.00L488.90 483.00Z" fill="#fff" stroke="#111" stroke-width="1"/>
<path d="M485.90 498.40L488.90 495.40L491.90 498.40L488.90 501.40Z" fill="#fff" stroke="#111" stroke-width="1"/>
<path d="M414.90 558.60L417.90 555.60L420.90 558.60L417.90 561.60Z" fill="#7c7c7c" stroke="#2a2a2a" stroke-width="1"/>
<path d="M420.00 558.60L423.00 555.60L426.00 558.60L423.00 561.60Z" fill="#7c7c7c" stroke="#2a2a2a" stroke-width="1"/>
<path d="M483.40 558.60L486.40 555.60L489.40 558.60L486.40 561.60Z" fill="#fff" stroke="#111" stroke-width="1"/>
<path d="M488.60 558.60L491.60 555.60L494.60 558.60L491.60 561.60Z" fill="#fff" stroke="#111" stroke-width="1"/>
<path d="M70.30 796.10L70.30 640.00L175.80 640.00L175.80 796.10" fill="none" stroke="#111" stroke-width="1.5" stroke-linejoin="miter"/>
<line x1="69.60" y1="796.10" x2="176.50" y2="796.10" stroke="#111" stroke-width="1.5" stroke-linecap="butt"/>
<line x1="62.30" y1="644.20" x2="70.30" y2="644.20" stroke="#111" stroke-width="1.5" stroke-linecap="butt"/>
<text x="40.20" y="647.60" font-size="11" fill="#222" letter-spacing="1.6">10</text>
<text x="55.40" y="643.40" font-size="8.8" fill="#222" >7</text>
<line x1="62.30" y1="674.45" x2="70.30" y2="674.45" stroke="#111" stroke-width="1.5" stroke-linecap="butt"/>
<text x="40.20" y="677.85" font-size="11" fill="#222" letter-spacing="1.6">10</text>
<text x="55.40" y="673.65" font-size="8.8" fill="#222" >6</text>
<line x1="62.30" y1="704.70" x2="70.30" y2="704.70" stroke="#111" stroke-width="1.5" stroke-linecap="butt"/>
<text x="40.20" y="708.10" font-size="11" fill="#222" letter-spacing="1.6">10</text>
<text x="55.40" y="703.90" font-size="8.8" fill="#222" >5</text>
<line x1="62.30" y1="734.95" x2="70.30" y2="734.95" stroke="#111" stroke-width="1.5" stroke-linecap="butt"/>
<text x="40.20" y="738.35" font-size="11" fill="#222" letter-spacing="1.6">10</text>
<text x="55.40" y="734.15" font-size="8.8" fill="#222" >4</text>
<line x1="62.30" y1="765.20" x2="70.30" y2="765.20" stroke="#111" stroke-width="1.5" stroke-linecap="butt"/>
<text x="40.20" y="768.60" font-size="11" fill="#222" letter-spacing="1.6">10</text>
<text x="55.40" y="764.40" font-size="8.8" fill="#222" >3</text>
<line x1="62.30" y1="794.60" x2="70.30" y2="794.60" stroke="#111" stroke-width="1.5" stroke-linecap="butt"/>
<text x="54.10" y="797.90" font-size="11" fill="#222" >0</text>
<line x1="63.30" y1="788.10" x2="73.80" y2="788.10" stroke="#111" stroke-width="1.2" stroke-linecap="butt"/>
<line x1="65.60" y1="791.10" x2="76.10" y2="791.10" stroke="#111" stroke-width="1.2" stroke-linecap="butt"/>
<line x1="169.10" y1="788.10" x2="179.40" y2="788.10" stroke="#111" stroke-width="1.2" stroke-linecap="butt"/>
<line x1="171.00" y1="791.10" x2="181.30" y2="791.10" stroke="#111" stroke-width="1.2" stroke-linecap="butt"/>
<line x1="88.80" y1="796.10" x2="88.80" y2="802.10" stroke="#111" stroke-width="1.5" stroke-linecap="butt"/>
<text x="72.50" y="813.80" font-size="11.3" textLength="33.50" lengthAdjust="spacingAndGlyphs" fill="#111" >Whole</text>
<line x1="123.20" y1="796.10" x2="123.20" y2="802.10" stroke="#111" stroke-width="1.5" stroke-linecap="butt"/>
<text x="111.60" y="813.80" font-size="11.3" fill="#111" letter-spacing="-1.35">GFP</text>
<text x="131.60" y="809.60" font-size="7.8" fill="#111" >+</text>
<line x1="158.00" y1="796.10" x2="158.00" y2="802.10" stroke="#111" stroke-width="1.5" stroke-linecap="butt"/>
<text x="145.90" y="813.80" font-size="11.3" fill="#111" letter-spacing="-1.35">GFP</text>
<text x="165.90" y="809.60" font-size="7.8" fill="#111" >-</text>
<g transform="translate(34.30 0) rotate(-90)" font-weight="bold" fill="#111"><text x="-796.45" y="0" font-size="10.7" textLength="55.60" lengthAdjust="spacingAndGlyphs">Log Donor</text><text x="-736.25" y="0" font-size="10.7" textLength="19.60" lengthAdjust="spacingAndGlyphs">Ly6</text><text x="-714.35" y="0" font-size="10.7" textLength="8.50" lengthAdjust="spacingAndGlyphs">G</text><text x="-706.00" y="-3.6" font-size="6.8">+</text><text x="-701.15" y="0" font-size="10.7" textLength="27.10" lengthAdjust="spacingAndGlyphs">Cells/</text><text x="-668.85" y="0" font-size="10.7" textLength="33.30" lengthAdjust="spacingAndGlyphs">Femur</text></g>
<path d="M234.30 796.10L234.30 640.00L341.00 640.00L341.00 796.10" fill="none" stroke="#111" stroke-width="1.5" stroke-linejoin="miter"/>
<line x1="233.60" y1="796.10" x2="341.70" y2="796.10" stroke="#111" stroke-width="1.5" stroke-linecap="butt"/>
<line x1="226.30" y1="643.80" x2="234.30" y2="643.80" stroke="#111" stroke-width="1.5" stroke-linecap="butt"/>
<text x="204.20" y="647.20" font-size="11" fill="#222" letter-spacing="1.6">10</text>
<text x="219.40" y="643.00" font-size="8.8" fill="#222" >6</text>
<line x1="226.30" y1="681.70" x2="234.30" y2="681.70" stroke="#111" stroke-width="1.5" stroke-linecap="butt"/>
<text x="204.20" y="685.10" font-size="11" fill="#222" letter-spacing="1.6">10</text>
<text x="219.40" y="680.90" font-size="8.8" fill="#222" >5</text>
<line x1="226.30" y1="719.60" x2="234.30" y2="719.60" stroke="#111" stroke-width="1.5" stroke-linecap="butt"/>
<text x="204.20" y="723.00" font-size="11" fill="#222" letter-spacing="1.6">10</text>
<text x="219.40" y="718.80" font-size="8.8" fill="#222" >4</text>
<line x1="226.30" y1="757.50" x2="234.30" y2="757.50" stroke="#111" stroke-width="1.5" stroke-linecap="butt"/>
<text x="204.20" y="760.90" font-size="11" fill="#222" letter-spacing="1.6">10</text>
<text x="219.40" y="756.70" font-size="8.8" fill="#222" >3</text>
<line x1="226.30" y1="794.60" x2="234.30" y2="794.60" stroke="#111" stroke-width="1.5" stroke-linecap="butt"/>
<text x="218.10" y="797.90" font-size="11" fill="#222" >0</text>
<line x1="227.30" y1="788.10" x2="237.80" y2="788.10" stroke="#111" stroke-width="1.2" stroke-linecap="butt"/>
<line x1="229.60" y1="791.10" x2="240.10" y2="791.10" stroke="#111" stroke-width="1.2" stroke-linecap="butt"/>
<line x1="334.30" y1="788.10" x2="344.60" y2="788.10" stroke="#111" stroke-width="1.2" stroke-linecap="butt"/>
<line x1="336.20" y1="791.10" x2="346.50" y2="791.10" stroke="#111" stroke-width="1.2" stroke-linecap="butt"/>
<line x1="253.00" y1="796.10" x2="253.00" y2="802.10" stroke="#111" stroke-width="1.5" stroke-linecap="butt"/>
<text x="236.80" y="813.80" font-size="11.3" textLength="32.50" lengthAdjust="spacingAndGlyphs" fill="#111" >Whole</text>
<line x1="287.50" y1="796.10" x2="287.50" y2="802.10" stroke="#111" stroke-width="1.5" stroke-linecap="butt"/>
<text x="274.60" y="813.80" font-size="11.3" fill="#111" letter-spacing="-1.35">GFP</text>
<text x="294.60" y="809.60" font-size="7.8" fill="#111" >+</text>
<line x1="321.40" y1="796.10" x2="321.40" y2="802.10" stroke="#111" stroke-width="1.5" stroke-linecap="butt"/>
<text x="310.10" y="813.80" font-size="11.3" fill="#111" letter-spacing="-1.35">GFP</text>
<text x="330.10" y="809.60" font-size="7.8" fill="#111" >-</text>
<g transform="translate(200.10 0) rotate(-90)" font-weight="bold" fill="#111"><text x="-796.35" y="0" font-size="10.7" textLength="55.50" lengthAdjust="spacingAndGlyphs">Log Donor</text><text x="-736.75" y="0" font-size="10.7" textLength="29.90" lengthAdjust="spacingAndGlyphs">CD19</text><text x="-706.30" y="-3.6" font-size="6.8">+</text><text x="-701.15" y="0" font-size="10.7" textLength="65.60" lengthAdjust="spacingAndGlyphs">Cells/Femur</text></g>
<path d="M401.30 796.10L401.30 640.00L507.40 640.00L507.40 796.10" fill="none" stroke="#111" stroke-width="1.5" stroke-linejoin="miter"/>
<line x1="400.60" y1="796.10" x2="508.10" y2="796.10" stroke="#111" stroke-width="1.5" stroke-linecap="butt"/>
<line x1="393.30" y1="640.20" x2="401.30" y2="640.20" stroke="#111" stroke-width="1.5" stroke-linecap="butt"/>
<text x="374.20" y="643.60" font-size="11" fill="#222" >10</text>
<text x="387.00" y="639.40" font-size="8.8" fill="#222" >8</text>
<line x1="393.30" y1="665.92" x2="401.30" y2="665.92" stroke="#111" stroke-width="1.5" stroke-linecap="butt"/>
<text x="371.20" y="669.32" font-size="11" fill="#222" letter-spacing="1.6">10</text>
<text x="386.40" y="665.12" font-size="8.8" fill="#222" >7</text>
<line x1="393.30" y1="691.64" x2="401.30" y2="691.64" stroke="#111" stroke-width="1.5" stroke-linecap="butt"/>
<text x="371.20" y="695.04" font-size="11" fill="#222" letter-spacing="1.6">10</text>
<text x="386.40" y="690.84" font-size="8.8" fill="#222" >6</text>
<line x1="393.30" y1="717.36" x2="401.30" y2="717.36" stroke="#111" stroke-width="1.5" stroke-linecap="butt"/>
<text x="371.20" y="720.76" font-size="11" fill="#222" letter-spacing="1.6">10</text>
<text x="386.40" y="716.56" font-size="8.8" fill="#222" >5</text>
<line x1="393.30" y1="743.08" x2="401.30" y2="743.08" stroke="#111" stroke-width="1.5" stroke-linecap="butt"/>
<text x="371.20" y="746.48" font-size="11" fill="#222" letter-spacing="1.6">10</text>
<text x="386.40" y="742.28" font-size="8.8" fill="#222" >4</text>
<line x1="393.30" y1="768.80" x2="401.30" y2="768.80" stroke="#111" stroke-width="1.5" stroke-linecap="butt"/>
<text x="371.20" y="772.20" font-size="11" fill="#222" letter-spacing="1.6">10</text>
<text x="386.40" y="768.00" font-size="8.8" fill="#222" >3</text>
<line x1="393.30" y1="794.60" x2="401.30" y2="794.60" stroke="#111" stroke-width="1.5" stroke-linecap="butt"/>
<text x="385.10" y="797.90" font-size="11" fill="#222" >0</text>
<line x1="394.30" y1="788.10" x2="404.80" y2="788.10" stroke="#111" stroke-width="1.2" stroke-linecap="butt"/>
<line x1="396.60" y1="791.10" x2="407.10" y2="791.10" stroke="#111" stroke-width="1.2" stroke-linecap="butt"/>
<line x1="500.70" y1="788.10" x2="511.00" y2="788.10" stroke="#111" stroke-width="1.2" stroke-linecap="butt"/>
<line x1="502.60" y1="791.10" x2="512.90" y2="791.10" stroke="#111" stroke-width="1.2" stroke-linecap="butt"/>
<line x1="419.30" y1="796.10" x2="419.30" y2="802.10" stroke="#111" stroke-width="1.5" stroke-linecap="butt"/>
<text x="403.80" y="813.80" font-size="11.3" textLength="32.50" lengthAdjust="spacingAndGlyphs" fill="#111" >Whole</text>
<line x1="453.80" y1="796.10" x2="453.80" y2="802.10" stroke="#111" stroke-width="1.5" stroke-linecap="butt"/>
<text x="442.10" y="813.80" font-size="11.3" fill="#111" letter-spacing="-1.35">GFP</text>
<text x="462.10" y="809.60" font-size="7.8" fill="#111" >+</text>
<line x1="488.80" y1="796.10" x2="488.80" y2="802.10" stroke="#111" stroke-width="1.5" stroke-linecap="butt"/>
<text x="477.60" y="813.80" font-size="11.3" fill="#111" letter-spacing="-1.35">GFP</text>
<text x="497.60" y="809.60" font-size="7.8" fill="#111" >-</text>
<g transform="translate(366.20 0) rotate(-90)" font-weight="bold" fill="#111"><text x="-794.35" y="0" font-size="10.7" textLength="55.00" lengthAdjust="spacingAndGlyphs">Log Donor</text><text x="-735.15" y="0" font-size="10.7" textLength="97.50" lengthAdjust="spacingAndGlyphs">Thymocytes/Lobe</text></g>
<path d="M86.30 668.80L89.30 665.80L92.30 668.80L89.30 671.80Z" fill="#7c7c7c" stroke="#2a2a2a" stroke-width="1"/>
<path d="M78.80 683.00L81.80 680.00L84.80 683.00L81.80 686.00Z" fill="#7c7c7c" stroke="#2a2a2a" stroke-width="1"/>
<path d="M86.30 680.50L89.30 677.50L92.30 680.50L89.30 683.50Z" fill="#7c7c7c" stroke="#2a2a2a" stroke-width="1"/>
<path d="M92.00 682.50L95.00 679.50L98.00 682.50L95.00 685.50Z" fill="#7c7c7c" stroke="#2a2a2a" stroke-width="1"/>
<path d="M119.90 643.80L123.20 640.50L126.50 643.80L123.20 647.10Z" fill="#000"/>
<path d="M119.90 652.50L123.20 649.20L126.50 652.50L123.20 655.80Z" fill="#000"/>
<path d="M119.90 660.20L123.20 656.90L126.50 660.20L123.20 663.50Z" fill="#000"/>
<path d="M119.90 664.00L123.20 660.70L126.50 664.00L123.20 667.30Z" fill="#000"/>
<path d="M119.90 678.00L123.20 674.70L126.50 678.00L123.20 681.30Z" fill="#000"/>
<path d="M115.70 683.00L119.00 679.70L122.30 683.00L119.00 686.30Z" fill="#000"/>
<path d="M123.90 683.00L127.20 679.70L130.50 683.00L127.20 686.30Z" fill="#000"/>
<path d="M80.30 796.10L83.30 793.10L86.30 796.10L83.30 799.10Z" fill="#7c7c7c" stroke="#2a2a2a" stroke-width="1"/>
<path d="M84.05 796.10L87.05 793.10L90.05 796.10L87.05 799.10Z" fill="#7c7c7c" stroke="#2a2a2a" stroke-width="1"/>
<path d="M87.80 796.10L90.80 793.10L93.80 796.10L90.80 799.10Z" fill="#7c7c7c" stroke="#2a2a2a" stroke-width="1"/>
<path d="M91.55 796.10L94.55 793.10L97.55 796.10L94.55 799.10Z" fill="#7c7c7c" stroke="#2a2a2a" stroke-width="1"/>
<path d="M143.80 796.10L146.80 793.10L149.80 796.10L146.80 799.10Z" fill="#fff" stroke="#111" stroke-width="1"/>
<path d="M147.47 796.10L150.47 793.10L153.47 796.10L150.47 799.10Z" fill="#fff" stroke="#111" stroke-width="1"/>
<path d="M151.14 796.10L154.14 793.10L157.14 796.10L154.14 799.10Z" fill="#fff" stroke="#111" stroke-width="1"/>
<path d="M154.81 796.10L157.81 793.10L160.81 796.10L157.81 799.10Z" fill="#fff" stroke="#111" stroke-width="1"/>
<path d="M158.48 796.10L161.48 793.10L164.48 796.10L161.48 799.10Z" fill="#fff" stroke="#111" stroke-width="1"/>
<path d="M162.15 796.10L165.15 793.10L168.15 796.10L165.15 799.10Z" fill="#fff" stroke="#111" stroke-width="1"/>
<path d="M165.82 796.10L168.82 793.10L171.82 796.10L168.82 799.10Z" fill="#fff" stroke="#111" stroke-width="1"/>
<path d="M250.30 644.30L253.30 641.30L256.30 644.30L253.30 647.30Z" fill="#7c7c7c" stroke="#2a2a2a" stroke-width="1"/>
<path d="M250.30 667.50L253.30 664.50L256.30 667.50L253.30 670.50Z" fill="#7c7c7c" stroke="#2a2a2a" stroke-width="1"/>
<path d="M250.30 674.50L253.30 671.50L256.30 674.50L253.30 677.50Z" fill="#7c7c7c" stroke="#2a2a2a" stroke-width="1"/>
<path d="M253.30 685.50L256.30 682.50L259.30 685.50L256.30 688.50Z" fill="#7c7c7c" stroke="#2a2a2a" stroke-width="1"/>
<path d="M246.30 688.80L249.30 685.80L252.30 688.80L249.30 691.80Z" fill="#7c7c7c" stroke="#2a2a2a" stroke-width="1"/>
<path d="M250.30 708.80L253.30 705.80L256.30 708.80L253.30 711.80Z" fill="#7c7c7c" stroke="#2a2a2a" stroke-width="1"/>
<path d="M284.20 655.80L287.50 652.50L290.80 655.80L287.50 659.10Z" fill="#000"/>
<path d="M278.00 680.30L281.30 677.00L284.60 680.30L281.30 683.60Z" fill="#000"/>
<path d="M284.20 680.30L287.50 677.00L290.80 680.30L287.50 683.60Z" fill="#000"/>
<path d="M290.00 680.30L293.30 677.00L296.60 680.30L293.30 683.60Z" fill="#000"/>
<path d="M284.20 694.50L287.50 691.20L290.80 694.50L287.50 697.80Z" fill="#000"/>
<path d="M284.20 705.80L287.50 702.50L290.80 705.80L287.50 709.10Z" fill="#000"/>
<path d="M284.20 720.00L287.50 716.70L290.80 720.00L287.50 723.30Z" fill="#000"/>
<path d="M247.00 796.10L250.00 793.10L253.00 796.10L250.00 799.10Z" fill="#7c7c7c" stroke="#2a2a2a" stroke-width="1"/>
<path d="M252.80 796.10L255.80 793.10L258.80 796.10L255.80 799.10Z" fill="#7c7c7c" stroke="#2a2a2a" stroke-width="1"/>
<path d="M306.30 796.10L309.30 793.10L312.30 796.10L309.30 799.10Z" fill="#fff" stroke="#111" stroke-width="1"/>
<path d="M310.25 796.10L313.25 793.10L316.25 796.10L313.25 799.10Z" fill="#fff" stroke="#111" stroke-width="1"/>
<path d="M314.20 796.10L317.20 793.10L320.20 796.10L317.20 799.10Z" fill="#fff" stroke="#111" stroke-width="1"/>
<path d="M318.15 796.10L321.15 793.10L324.15 796.10L321.15 799.10Z" fill="#fff" stroke="#111" stroke-width="1"/>
<path d="M322.10 796.10L325.10 793.10L328.10 796.10L325.10 799.10Z" fill="#fff" stroke="#111" stroke-width="1"/>
<path d="M326.05 796.10L329.05 793.10L332.05 796.10L329.05 799.10Z" fill="#fff" stroke="#111" stroke-width="1"/>
<path d="M330.00 796.10L333.00 793.10L336.00 796.10L333.00 799.10Z" fill="#fff" stroke="#111" stroke-width="1"/>
<path d="M412.80 648.10L415.80 645.10L418.80 648.10L415.80 651.10Z" fill="#7c7c7c" stroke="#2a2a2a" stroke-width="1"/>
<path d="M420.20 646.90L423.20 643.90L426.20 646.90L423.20 649.90Z" fill="#7c7c7c" stroke="#2a2a2a" stroke-width="1"/>
<path d="M417.00 652.70L420.00 649.70L423.00 652.70L420.00 655.70Z" fill="#7c7c7c" stroke="#2a2a2a" stroke-width="1"/>
<path d="M405.60 666.30L408.60 663.30L411.60 666.30L408.60 669.30Z" fill="#7c7c7c" stroke="#2a2a2a" stroke-width="1"/>
<path d="M412.80 666.30L415.80 663.30L418.80 666.30L415.80 669.30Z" fill="#7c7c7c" stroke="#2a2a2a" stroke-width="1"/>
<path d="M420.20 666.30L423.20 663.30L426.20 666.30L423.20 669.30Z" fill="#7c7c7c" stroke="#2a2a2a" stroke-width="1"/>
<path d="M427.10 666.30L430.10 663.30L433.10 666.30L430.10 669.30Z" fill="#7c7c7c" stroke="#2a2a2a" stroke-width="1"/>
<path d="M417.00 671.90L420.00 668.90L423.00 671.90L420.00 674.90Z" fill="#7c7c7c" stroke="#2a2a2a" stroke-width="1"/>
<path d="M417.00 677.60L420.00 674.60L423.00 677.60L420.00 680.60Z" fill="#7c7c7c" stroke="#2a2a2a" stroke-width="1"/>
<path d="M417.00 682.70L420.00 679.70L423.00 682.70L420.00 685.70Z" fill="#7c7c7c" stroke="#2a2a2a" stroke-width="1"/>
<path d="M412.80 693.50L415.80 690.50L418.80 693.50L415.80 696.50Z" fill="#7c7c7c" stroke="#2a2a2a" stroke-width="1"/>
<path d="M420.20 693.50L423.20 690.50L426.20 693.50L423.20 696.50Z" fill="#7c7c7c" stroke="#2a2a2a" stroke-width="1"/>
<path d="M417.00 700.00L420.00 697.00L423.00 700.00L420.00 703.00Z" fill="#7c7c7c" stroke="#2a2a2a" stroke-width="1"/>
<path d="M417.00 711.50L420.00 708.50L423.00 711.50L420.00 714.50Z" fill="#7c7c7c" stroke="#2a2a2a" stroke-width="1"/>
<path d="M450.90 651.30L454.20 648.00L457.50 651.30L454.20 654.60Z" fill="#000"/>
<path d="M446.70 664.20L450.00 660.90L453.30 664.20L450.00 667.50Z" fill="#000"/>
<path d="M453.90 662.60L457.20 659.30L460.50 662.60L457.20 665.90Z" fill="#000"/>
<path d="M446.70 674.20L450.00 670.90L453.30 674.20L450.00 677.50Z" fill="#000"/>
<path d="M453.90 672.80L457.20 669.50L460.50 672.80L457.20 676.10Z" fill="#000"/>
<path d="M446.70 687.00L450.00 683.70L453.30 687.00L450.00 690.30Z" fill="#000"/>
<path d="M453.90 684.30L457.20 681.00L460.50 684.30L457.20 687.60Z" fill="#000"/>
<path d="M446.70 703.00L450.00 699.70L453.30 703.00L450.00 706.30Z" fill="#000"/>
<path d="M453.90 703.00L457.20 699.70L460.50 703.00L457.20 706.30Z" fill="#000"/>
<path d="M481.70 708.80L484.70 705.80L487.70 708.80L484.70 711.80Z" fill="#fff" stroke="#111" stroke-width="1"/>
<path d="M488.60 708.80L491.60 705.80L494.60 708.80L491.60 711.80Z" fill="#fff" stroke="#111" stroke-width="1"/>
<path d="M413.30 796.10L416.30 793.10L419.30 796.10L416.30 799.10Z" fill="#7c7c7c" stroke="#2a2a2a" stroke-width="1"/>
<path d="M419.00 796.10L422.00 793.10L425.00 796.10L422.00 799.10Z" fill="#7c7c7c" stroke="#2a2a2a" stroke-width="1"/>
<path d="M443.00 796.10L446.30 792.80L449.60 796.10L446.30 799.40Z" fill="#000"/>
<path d="M446.62 796.10L449.92 792.80L453.22 796.10L449.92 799.40Z" fill="#000"/>
<path d="M450.24 796.10L453.54 792.80L456.84 796.10L453.54 799.40Z" fill="#000"/>
<path d="M453.86 796.10L457.16 792.80L460.46 796.10L457.16 799.40Z" fill="#000"/>
<path d="M457.48 796.10L460.78 792.80L464.08 796.10L460.78 799.40Z" fill="#000"/>
<path d="M461.30 796.10L464.30 793.10L467.30 796.10L464.30 799.10Z" fill="#fff" stroke="#111" stroke-width="1"/>
<path d="M464.90 796.10L467.90 793.10L470.90 796.10L467.90 799.10Z" fill="#fff" stroke="#111" stroke-width="1"/>
<path d="M468.50 796.10L471.50 793.10L474.50 796.10L471.50 799.10Z" fill="#fff" stroke="#111" stroke-width="1"/>
<path d="M472.10 796.10L475.10 793.10L478.10 796.10L475.10 799.10Z" fill="#fff" stroke="#111" stroke-width="1"/>
<path d="M475.70 796.10L478.70 793.10L481.70 796.10L478.70 799.10Z" fill="#fff" stroke="#111" stroke-width="1"/>
<path d="M479.30 796.10L482.30 793.10L485.30 796.10L482.30 799.10Z" fill="#fff" stroke="#111" stroke-width="1"/>
<path d="M482.90 796.10L485.90 793.10L488.90 796.10L485.90 799.10Z" fill="#fff" stroke="#111" stroke-width="1"/>
<path d="M486.50 796.10L489.50 793.10L492.50 796.10L489.50 799.10Z" fill="#fff" stroke="#111" stroke-width="1"/>
<path d="M490.10 796.10L493.10 793.10L496.10 796.10L493.10 799.10Z" fill="#fff" stroke="#111" stroke-width="1"/>
<path d="M493.70 796.10L496.70 793.10L499.70 796.10L496.70 799.10Z" fill="#fff" stroke="#111" stroke-width="1"/>
<path d="M497.30 796.10L500.30 793.10L503.30 796.10L500.30 799.10Z" fill="#fff" stroke="#111" stroke-width="1"/>
<path d="M500.90 796.10L503.90 793.10L506.90 796.10L503.90 799.10Z" fill="#fff" stroke="#111" stroke-width="1"/>
<path d="M504.50 796.10L507.50 793.10L510.50 796.10L507.50 799.10Z" fill="#fff" stroke="#111" stroke-width="1"/>
</svg>
</body></html>
